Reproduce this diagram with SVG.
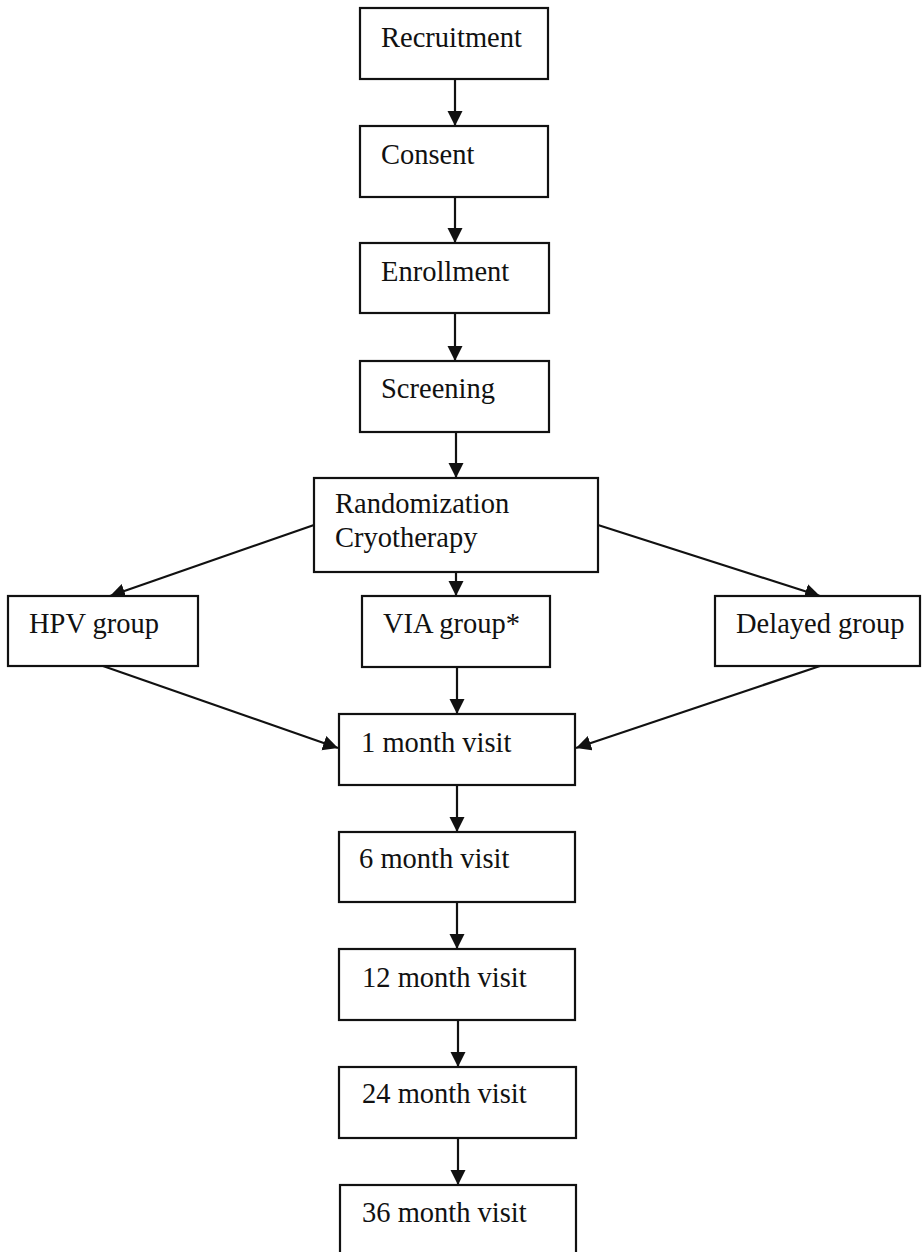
<svg xmlns="http://www.w3.org/2000/svg" width="922" height="1252" viewBox="0 0 922 1252">
<style>
.box{fill:#fff;stroke:#111;stroke-width:2.2}
.lbl{font-family:"Liberation Serif","Times New Roman",serif;font-size:28.5px;fill:#111}
.edge{stroke:#111;stroke-width:2.2;fill:none;marker-end:url(#ah)}
</style>
<defs>
<marker id="ah" markerUnits="userSpaceOnUse" markerWidth="17" markerHeight="17" refX="15" refY="7.5" orient="auto">
<path d="M0,0 L15,7.5 L0,15 z" fill="#111"/>
</marker>
</defs>
<rect width="922" height="1252" fill="#fff"/>
<g id="connectors">
<line class="edge" x1="455" y1="79" x2="455" y2="126"/>
<line class="edge" x1="455" y1="197" x2="455" y2="243"/>
<line class="edge" x1="455" y1="313" x2="455" y2="361"/>
<line class="edge" x1="456" y1="432" x2="456" y2="478"/>
<line class="edge" x1="456" y1="572" x2="456" y2="596"/>
<line class="edge" x1="314" y1="525" x2="110" y2="596"/>
<line class="edge" x1="598" y1="525" x2="820" y2="596"/>
<line class="edge" x1="457" y1="667" x2="457" y2="714"/>
<line class="edge" x1="103" y1="666" x2="338" y2="748"/>
<line class="edge" x1="820" y1="666" x2="576" y2="748"/>
<line class="edge" x1="457" y1="785" x2="457" y2="832"/>
<line class="edge" x1="457" y1="902" x2="457" y2="949"/>
<line class="edge" x1="458" y1="1020" x2="458" y2="1067"/>
<line class="edge" x1="458" y1="1138" x2="458" y2="1185"/>
</g>
<g id="recruitment"><rect class="box" x="360" y="8" width="188" height="71"/><text class="lbl" x="381" y="47">Recruitment</text></g>
<g id="consent"><rect class="box" x="360" y="126" width="188" height="71"/><text class="lbl" x="381" y="164">Consent</text></g>
<g id="enrollment"><rect class="box" x="360" y="243" width="189" height="70"/><text class="lbl" x="381" y="281">Enrollment</text></g>
<g id="screening"><rect class="box" x="360" y="361" width="189" height="71"/><text class="lbl" x="381" y="398">Screening</text></g>
<g id="randomization"><rect class="box" x="314" y="478" width="284" height="94"/><text class="lbl" x="335" y="513">Randomization</text><text class="lbl" x="335" y="547">Cryotherapy</text></g>
<g id="hpv"><rect class="box" x="8" y="596" width="190" height="70"/><text class="lbl" x="29" y="633">HPV group</text></g>
<g id="via"><rect class="box" x="362" y="596" width="188" height="71"/><text class="lbl" x="383" y="633">VIA group*</text></g>
<g id="delayed"><rect class="box" x="715" y="596" width="205" height="70"/><text class="lbl" x="736" y="633">Delayed group</text></g>
<g id="m1"><rect class="box" x="339" y="714" width="236" height="71"/><text class="lbl" x="361" y="752">1 month visit</text></g>
<g id="m6"><rect class="box" x="339" y="832" width="236" height="70"/><text class="lbl" x="359" y="868">6 month visit</text></g>
<g id="m12"><rect class="box" x="339" y="949" width="236" height="71"/><text class="lbl" x="362" y="987">12 month visit</text></g>
<g id="m24"><rect class="box" x="339" y="1067" width="237" height="71"/><text class="lbl" x="362" y="1103">24 month visit</text></g>
<g id="m36"><rect class="box" x="340" y="1185" width="236" height="80"/><text class="lbl" x="362" y="1222">36 month visit</text></g>
</svg>
